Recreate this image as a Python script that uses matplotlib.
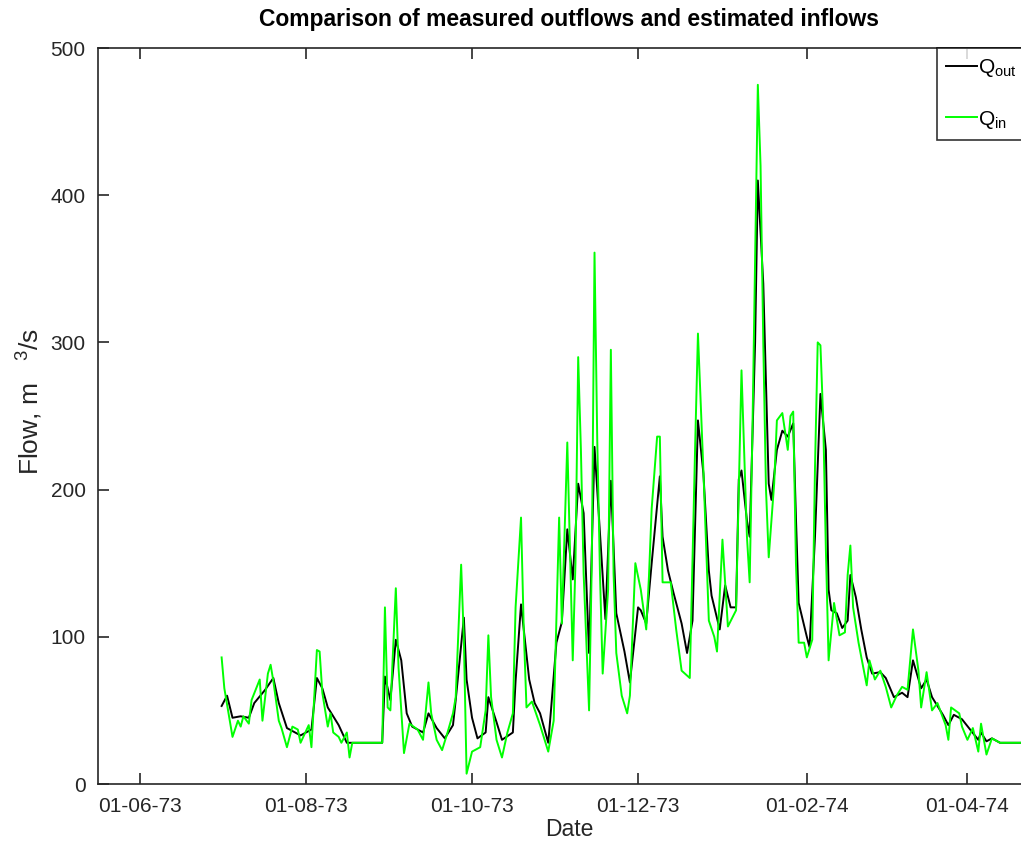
import numpy as np
import pandas as pd
import matplotlib
matplotlib.use('Agg')
import matplotlib.pyplot as plt
import matplotlib.dates as mdates

plt.rcParams['font.family'] = ['Liberation Sans', 'DejaVu Sans']
plt.rcParams['mathtext.fontset'] = 'custom'
plt.rcParams['mathtext.rm'] = 'Liberation Sans'

#---------------------------------- DATA -----------------------------------
start = pd.Timestamp('1973-07-01')

# measured outflow (days since 01-07-73, m3/s)
day_out = [0, 2, 4, 7, 10, 12, 16, 19, 21, 24, 27, 29, 33, 35, 37, 39, 43, 46, 59,
           60, 62, 64, 66, 68, 70, 74, 76, 79, 82, 85, 86, 89, 90, 92, 94, 97, 98,
           101, 103, 107, 108, 110, 111, 113, 115, 117, 120, 121, 123, 125, 127,
           129, 131, 133, 135, 137, 139, 141, 143, 145, 148, 150, 153, 154, 156,
           158, 161, 162, 164, 166, 169, 171, 173, 175, 177, 179, 180, 183, 185,
           187, 189, 190, 191, 193, 194, 196, 197, 199, 200, 201, 202, 204, 206,
           208, 210, 211, 212, 215, 216, 218, 220, 222, 223, 224, 226, 228, 230,
           231, 233, 235, 237, 239, 242, 244, 247, 250, 252, 254, 257, 259, 261,
           265, 267, 269, 272, 275, 278, 279, 281, 283, 286, 303]
q_out = [53, 60, 45, 46, 45, 55, 64, 72, 55, 38, 35, 33, 37, 72, 65, 52, 40, 28, 28,
         73, 57, 98, 84, 48, 39, 35, 48, 38, 31, 40, 57, 113, 71, 45, 31, 35, 59,
         42, 30, 35, 70, 122, 105, 71, 55, 48, 28, 50, 96, 110, 173,
         139, 204, 184, 89, 229, 171, 112, 206, 116, 90, 69, 120, 118, 109,
         150, 209, 168, 145, 130, 109, 89, 111, 247, 211, 145, 128, 105, 135,
         120, 120, 207, 213, 179, 168, 300, 410, 340, 272, 204, 193, 227, 240,
         236, 245, 181, 123, 100, 93, 168, 265, 227, 132, 118, 116, 106, 111,
         142, 127, 105, 86, 75, 76, 72, 59, 62, 59, 84, 65, 71, 59,
         47, 40, 47, 44, 37, 30, 35, 29, 31, 28, 28]

# estimated inflow
day_in = [0, 1, 4, 6, 7, 8, 10, 11, 14, 15, 17, 18, 19, 21, 22, 24, 26, 28, 29, 32,
          33, 35, 36, 37, 39, 40, 41, 43, 44, 46, 47, 48, 59, 60, 61, 62, 64, 65,
          67, 69, 72, 74, 76, 77, 79, 81, 83, 85, 86, 88, 89, 90, 92, 95, 97, 98,
          99, 101, 103, 105, 107, 108, 110, 111, 112, 114, 117, 120, 122, 124,
          125, 127, 129, 130, 131, 132, 133, 135, 136, 137, 138, 139, 140, 142,
          143, 144, 145, 147, 149, 150, 152, 154, 156, 157, 158, 160, 161, 162,
          165, 167, 169, 172, 174, 175, 177, 179, 181, 182, 184, 186, 189, 191,
          193, 194, 195, 197, 198, 199, 200, 201, 203, 204, 206, 208, 209, 210,
          211, 212, 214, 215, 217, 218, 219, 220, 221, 222, 223, 225, 227, 229,
          230, 231, 232, 234, 237, 238, 240, 242, 244, 246, 248, 250, 252, 254,
          256, 257, 259, 261, 263, 266, 267, 268, 271, 272, 274, 276, 278, 279,
          281, 283, 286, 303]
q_in = [86, 65, 32, 43, 39, 46, 41, 57, 71, 43, 75, 81, 70, 43, 38, 25, 39, 37, 28, 40,
        25, 91, 90, 62, 39, 48, 35, 32, 28, 35, 18, 28, 28, 120, 52, 50, 133, 79,
        21, 41, 37, 30, 69, 48, 30, 23, 35, 48, 59, 149, 98, 7, 22, 25, 50, 101,
        59, 30, 18, 35, 48, 120, 181, 105, 52, 56, 40, 22, 43, 181,
        109, 232, 84, 150, 290, 227, 143, 50, 150, 361, 234, 143, 75, 132,
        295, 143, 89, 60, 48, 60, 150, 132, 105, 141, 187, 236, 236, 137,
        137, 105, 77, 72, 232, 306, 213, 111, 100, 90, 166, 107, 118, 281,
        168, 137, 238, 475, 420, 300, 200, 154, 204, 247, 252, 227, 250, 253,
        150, 96, 96, 86, 98, 215, 300, 298, 249, 159, 84, 123, 101, 103,
        142, 162, 120, 96, 67, 84, 71, 77, 66, 52, 60, 66, 64, 105,
        77, 52, 76, 50, 55, 40, 30, 52, 48, 39, 30, 38, 22, 41,
        20, 31, 28, 28]

t_out = start + pd.to_timedelta(day_out, unit='D')
t_in = start + pd.to_timedelta(day_in, unit='D')

#---------------------------------- PLOT -----------------------------------
fig = plt.figure(figsize=(10.21, 8.43), dpi=100)
# axes run past the right edge of the picture, as in the original
ax = fig.add_axes([98/1021, 59/843, 942/1021, 736/843])

ax.plot(t_out, q_out, color='black', lw=1.4, label=r'Q$_{\mathrm{out}}$')
ax.plot(t_in, q_in, color='#00ff00', lw=1.4, label=r'Q$_{\mathrm{in}}$')

ax.set_xlim(pd.Timestamp('1973-05-16 14:00'), pd.Timestamp('1974-04-27 16:00'))
ax.set_ylim(0, 500)
ax.set_yticks([0, 100, 200, 300, 400, 500])
ax.xaxis.set_major_locator(mdates.MonthLocator(bymonth=[2, 4, 6, 8, 10, 12]))
ax.xaxis.set_major_formatter(mdates.DateFormatter('%d-%m-%y'))

ax.tick_params(direction='in', length=8, width=1.2, top=True, right=True,
               labelsize=15, colors='#262626', pad=9)
for s in ax.spines.values():
    s.set_color('#262626')
    s.set_linewidth(1.2)

ax.set_title('Comparison of measured outflows and estimated inflows',
             fontsize=16.5, fontweight='bold', pad=16)
ax.set_xlabel('Date', fontsize=16.5, color='#262626', labelpad=2)
ax.set_ylabel('Flow, m   $^{3}$/s', fontsize=19, color='#262626')
ax.yaxis.set_label_coords(-0.057, 0.52)

leg = ax.legend(loc='upper left', bbox_to_anchor=(937/1021, 1 - 48/843),
                bbox_transform=fig.transFigure, fontsize=15, frameon=True,
                fancybox=False, borderaxespad=0, handlelength=1.45,
                handletextpad=0.05, borderpad=0.45, labelspacing=1.4)
leg.get_frame().set_edgecolor('black')
leg.get_frame().set_linewidth(1.2)

fig.savefig('out.png', dpi=100)
